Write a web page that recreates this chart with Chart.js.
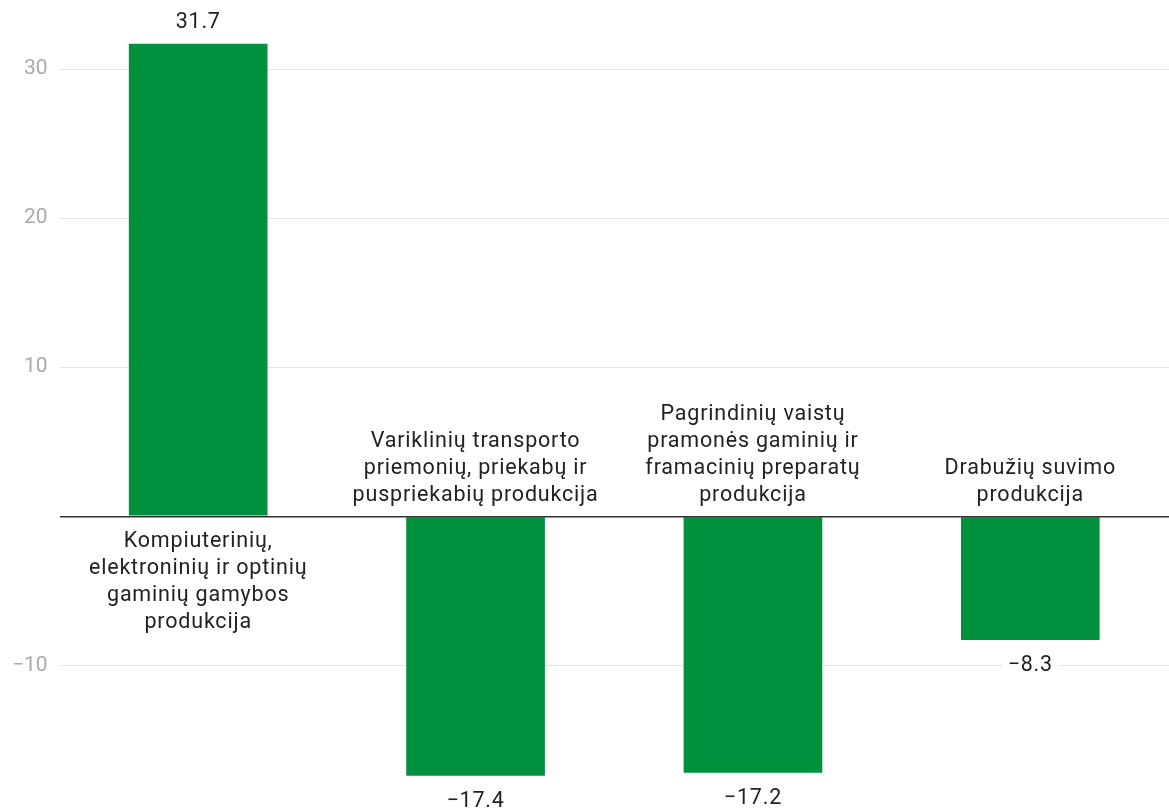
<!DOCTYPE html>
<html>
<head>
<meta charset="utf-8">
<script src="https://cdn.jsdelivr.net/npm/chart.js@4"></script>
<style>
  html, body { margin: 0; padding: 0; background: #fff; }
  #wrap { width: 1169px; height: 810px; }
</style>
</head>
<body>
<div id="wrap"><canvas id="grafica" width="1169" height="810"></canvas></div>
<script>
// datos
const categorias = [
    ["Kompiuterinių,", "elektroninių ir optinių", "gaminių gamybos", "produkcija"],
    ["Variklinių transporto", "priemonių, priekabų ir", "puspriekabių produkcija"],
    ["Pagrindinių vaistų", "pramonės gaminių ir", "framacinių preparatų", "produkcija"],
    ["Drabužių suvimo", "produkcija"]
];
const valores = [31.7, -17.4, -17.2, -8.3];
const ticksY = [-10, 0, 10, 20, 30];

const FUENTE = "Roboto, 'Noto Sans', sans-serif";

function formato(v) {
    return (v < 0 ? "\u2212" : "") + Math.abs(v).toFixed(1);
}

// etiquetas de categoría y valores junto a cada barra
const etiquetasPlugin = {
    id: 'etiquetas',
    afterDatasetsDraw(chart) {
        const ctx = chart.ctx;
        const meta = chart.getDatasetMeta(0);
        const y0 = chart.scales.y.getPixelForValue(0);
        const alto = 27;
        ctx.save();
        ctx.textAlign = 'center';
        ctx.textBaseline = 'alphabetic';
        ctx.font = "21.5px " + FUENTE;
        ctx.letterSpacing = '0.8px';

        const valor = (txt, x, base) => {
            // fondo blanco detrás del número (tapa la cuadrícula)
            const w = ctx.measureText(txt).width + 12;
            ctx.fillStyle = '#fff';
            ctx.fillRect(x - w / 2, base - 19, w, 24);
            ctx.fillStyle = '#222';
            ctx.fillText(txt, x, base);
        };

        meta.data.forEach((bar, i) => {
            const v = valores[i];
            const lineas = categorias[i];
            ctx.fillStyle = '#222';
            if (v >= 0) {
                lineas.forEach((t, j) => ctx.fillText(t, bar.x, y0 + 31 + j * alto));
                valor(formato(v), bar.x, bar.y - 16);
            } else {
                const n = lineas.length;
                lineas.forEach((t, j) => ctx.fillText(t, bar.x, y0 - 15 - (n - 1 - j) * alto));
                valor(formato(v), bar.x, bar.y + 31);
            }
        });
        ctx.restore();
    }
};

new Chart(document.getElementById('grafica'), {
    type: 'bar',
    data: {
        labels: categorias.map(c => c.join(' ')),
        datasets: [{
            data: valores,
            backgroundColor: '#00913f',
            borderWidth: 0,
            barPercentage: 0.5,
            categoryPercentage: 1
        }]
    },
    options: {
        responsive: false,
        animation: false,
        layout: { padding: { left: 0, top: 0, bottom: 0, right: -7 } },
        plugins: {
            legend: { display: false },
            tooltip: { enabled: false }
        },
        scales: {
            x: { display: false },
            y: {
                min: -19.7,
                max: 34.63,
                afterFit(scale) {
                    scale.width = 59.5;
                    scale.paddingTop = 0;
                    scale.paddingBottom = 0;
                },
                afterBuildTicks(scale) {
                    scale.ticks = ticksY.map(v => ({ value: v }));
                },
                border: { display: false },
                grid: {
                    drawTicks: false,
                    color: c => c.tick.value === 0 ? '#333' : '#e5e5e5',
                    lineWidth: c => c.tick.value === 0 ? 1.5 : 1
                },
                ticks: {
                    padding: 12,
                    color: '#aaa',
                    font: { family: FUENTE, size: 21 },
                    callback: v => v === 0 ? '' : (v < 0 ? "\u2212" + Math.abs(v) : String(v))
                }
            }
        }
    },
    plugins: [etiquetasPlugin]
});
</script>
</body>
</html>
